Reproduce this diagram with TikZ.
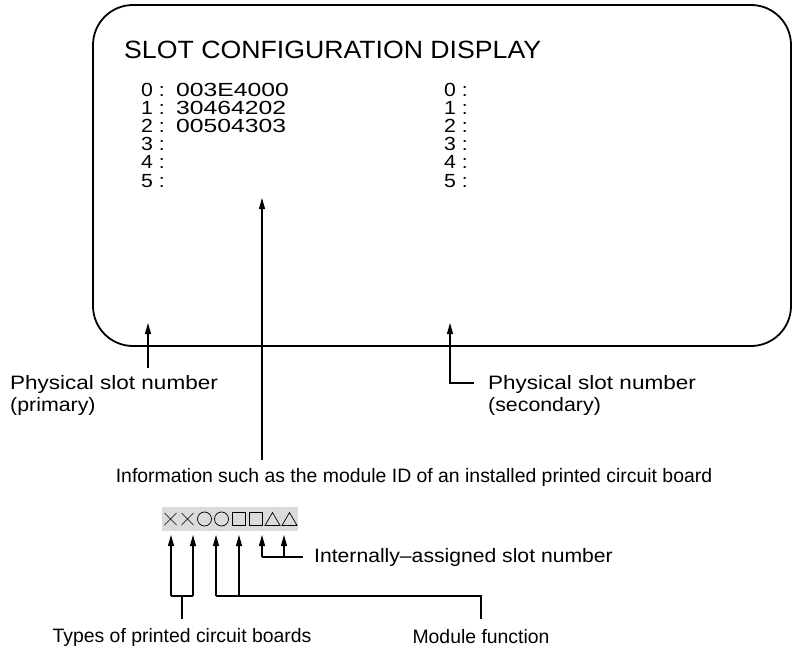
\documentclass[tikz,border=0pt]{standalone}
\usepackage{fontspec}
\setmainfont{Liberation Sans}
\usetikzlibrary{arrows.meta}
\newcommand{\wx}[2]{\scalebox{#1}[1]{#2}}
\begin{document}
\begin{tikzpicture}[x=1pt,y=-1pt,
  lbl/.style={font=\fontsize{19.4}{22}\selectfont, inner sep=0pt, align=left},
  row/.style={font=\fontsize{19}{19}\selectfont, inner sep=0pt, anchor=base west, text height=13pt, text depth=2pt},
  arr/.style={line width=1.2pt, -{Triangle[length=11pt,width=6pt]}},
  ln/.style={line width=1.2pt},
  sym/.style={line width=0.7pt},
]
\useasboundingbox (0,0) rectangle (793,650);
% screen frame
\draw[line width=1.8pt, rounded corners=40pt] (93,5) rectangle (791,346);
\node[anchor=west, inner sep=0pt, font=\fontsize{25}{27}\selectfont] (title) at (124,50) {\wx{1.067}{SLOT CONFIGURATION DISPLAY}};
\foreach \i/\v in {0/003E4000,1/30464202,2/00504303,3/,4/,5/} {
  \node[row] (l\i) at (141,{97+18*\i}) {\wx{1.12}{\i{} :}};
  \node[row] (v\i) at (176,{97+18*\i}) {\wx{1.3}{\v}};
  \node[row] (r\i) at (444,{97+18*\i}) {\wx{1.12}{\i{} :}};
}
% labels
\node[lbl, anchor=north west] (pP) at (10,375) {\wx{1.16}{Physical slot number}\\\wx{1.1}{(primary)}};
\node[lbl, anchor=north west] (pS) at (488,375) {\wx{1.16}{Physical slot number}\\\wx{1.1}{(secondary)}};
\node[lbl] (info) at (414,477) {Information such as the module ID of an installed printed circuit board};
\node[lbl, anchor=west] (intl) at (314,557) {\wx{1.09}{Internally–assigned slot number}};
\node[lbl] (types) at (182,637) {Types of printed circuit boards};
\node[lbl] (modf) at (481,637) {Module function};
% symbol strip
\node[fill=black!14, minimum width=136pt, minimum height=24pt, inner sep=0pt] (strip) at (230,519) {};
\foreach \x in {170.5,187.5} {\draw[sym] (\x-6,513) -- (\x+6,525) (\x-6,525) -- (\x+6,513);}
\foreach \x in {204.5,221.5} {\draw[sym] (\x,519) circle[radius=7pt];}
\foreach \x in {238.5,255.5} {\draw[sym] (\x-6.5,512.5) rectangle (\x+6.5,525.5);}
\foreach \x in {272.5,289.5} {\draw[sym] (\x-7.5,525.5) -- (\x,512.5) -- (\x+7.5,525.5) -- cycle;}
% arrow tips / joints
\coordinate (tP) at (148,323);
\coordinate (fP) at (148,368);
\coordinate (tI) at (262,198);
\coordinate (fI) at (262,460);
\coordinate (tS) at (450,323);
\coordinate (cS) at (450,383);
\coordinate (eS) at (474,383);
\draw[arr] (fP) -- (tP);
\draw[arr] (fI) -- (tI);
\draw[arr] (eS) -- (cS) -- (tS);
\foreach \n/\x in {1/171,2/193,3/216,4/239,5/262,6/284} {\coordinate (a\n) at (\x,535);}
\coordinate (j1) at (171,596); \coordinate (j2) at (193,596);
\coordinate (j3) at (216,596); \coordinate (j4) at (239,596);
\coordinate (j5) at (262,557); \coordinate (j6) at (284,557);
\foreach \n in {1,...,6} {\draw[arr] (j\n) -- (a\n);}
\coordinate (sT) at (182,596); \coordinate (bT) at (182,619);
\coordinate (cM) at (481,596); \coordinate (bM) at (481,619);
\coordinate (eI) at (303,557);
\draw[ln] (j1) -- (j2);
\draw[ln] (sT) -- (bT);
\draw[ln] (j3) -- (cM) -- (bM);
\draw[ln] (j5) -- (eI);
\end{tikzpicture}
\end{document}
